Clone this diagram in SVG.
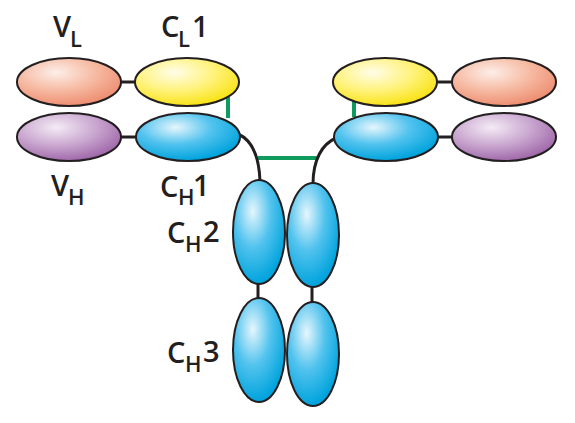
<svg xmlns="http://www.w3.org/2000/svg" width="575" height="423" viewBox="0 0 575 423">
<defs>
<radialGradient id="gVL" cx="0.38" cy="0.3" r="0.7"><stop offset="0" stop-color="#fdeee8"/><stop offset="0.55" stop-color="#f6b9a1"/><stop offset="1" stop-color="#ee8f73"/></radialGradient>
<radialGradient id="gCL" cx="0.38" cy="0.3" r="0.7"><stop offset="0" stop-color="#fffde8"/><stop offset="0.55" stop-color="#fff27a"/><stop offset="1" stop-color="#f9e318"/></radialGradient>
<radialGradient id="gVH" cx="0.38" cy="0.3" r="0.7"><stop offset="0" stop-color="#f4ebf5"/><stop offset="0.55" stop-color="#c9a6cf"/><stop offset="1" stop-color="#a16aab"/></radialGradient>
<radialGradient id="gC" cx="0.38" cy="0.3" r="0.7"><stop offset="0" stop-color="#e6f6fd"/><stop offset="0.5" stop-color="#52c3ee"/><stop offset="1" stop-color="#00a3dd"/></radialGradient>
</defs>
<style>
ellipse{stroke:#231f20;stroke-width:2}
.vl{fill:url(#gVL)}.cl{fill:url(#gCL)}.vh{fill:url(#gVH)}.c{fill:url(#gC)}
.k{stroke:#231f20;stroke-width:3;fill:none}
.g{stroke:#0f9b5e;stroke-width:4;fill:none}
text{font-family:"Open Sans","Liberation Sans",sans-serif;fill:#231f20;font-size:29px;font-weight:600}
.s{font-size:22px}
</style>
<g id="connectors">
<line class="k" x1="120" y1="82" x2="137" y2="82"/>
<line class="k" x1="120" y1="137" x2="138" y2="137"/>
<line class="k" x1="437" y1="82" x2="453" y2="82"/>
<line class="k" x1="437" y1="137" x2="453" y2="137"/>
<line class="g" x1="228" y1="97" x2="228" y2="118"/>
<line class="g" x1="354" y1="100" x2="354" y2="117"/>
<line class="g" x1="258" y1="158" x2="318" y2="158"/>
<path class="k" d="M238,134 C252,140 259,155 260,181"/>
<path class="k" d="M336,138 C322,144 313,160 313,184"/>
<line class="k" x1="258" y1="283" x2="258" y2="299"/>
<line class="k" x1="312" y1="286" x2="312" y2="303"/>
</g>
<g id="VL-left"><ellipse class="vl" cx="69" cy="82" rx="52" ry="24"/></g>
<g id="CL1-left"><ellipse class="cl" cx="187" cy="82" rx="52" ry="24"/></g>
<g id="VH-left"><ellipse class="vh" cx="69" cy="137" rx="52" ry="24"/></g>
<g id="CH1-left"><ellipse class="c" cx="188" cy="137" rx="52" ry="24"/></g>
<g id="CL1-right"><ellipse class="cl" cx="385" cy="82" rx="52" ry="24"/></g>
<g id="VL-right"><ellipse class="vl" cx="504" cy="82" rx="52" ry="24"/></g>
<g id="CH1-right"><ellipse class="c" cx="386" cy="137" rx="52" ry="24"/></g>
<g id="VH-right"><ellipse class="vh" cx="504" cy="137" rx="52" ry="24"/></g>
<g id="CH2-left"><ellipse class="c" cx="259" cy="232" rx="26" ry="52"/></g>
<g id="CH2-right"><ellipse class="c" cx="313" cy="235" rx="26" ry="52"/></g>
<g id="CH3-left"><ellipse class="c" cx="259" cy="350" rx="26" ry="52"/></g>
<g id="CH3-right"><ellipse class="c" cx="313" cy="354" rx="26" ry="52"/></g>
<g id="labels">
<text x="53" y="37">V</text>
<text class="s" x="70" y="47">L</text>
<text x="161" y="37">C</text>
<text class="s" x="178" y="47">L</text>
<text x="192" y="37">1</text>
<text x="51" y="196">V</text>
<text class="s" x="68" y="205">H</text>
<text x="160" y="197">C</text>
<text class="s" x="178" y="205">H</text>
<text x="193" y="196">1</text>
<text x="167" y="243">C</text>
<text class="s" x="185" y="252">H</text>
<text x="203" y="242">2</text>
<text x="167" y="363">C</text>
<text class="s" x="185" y="372">H</text>
<text x="203" y="362">3</text>
</g>
</svg>
